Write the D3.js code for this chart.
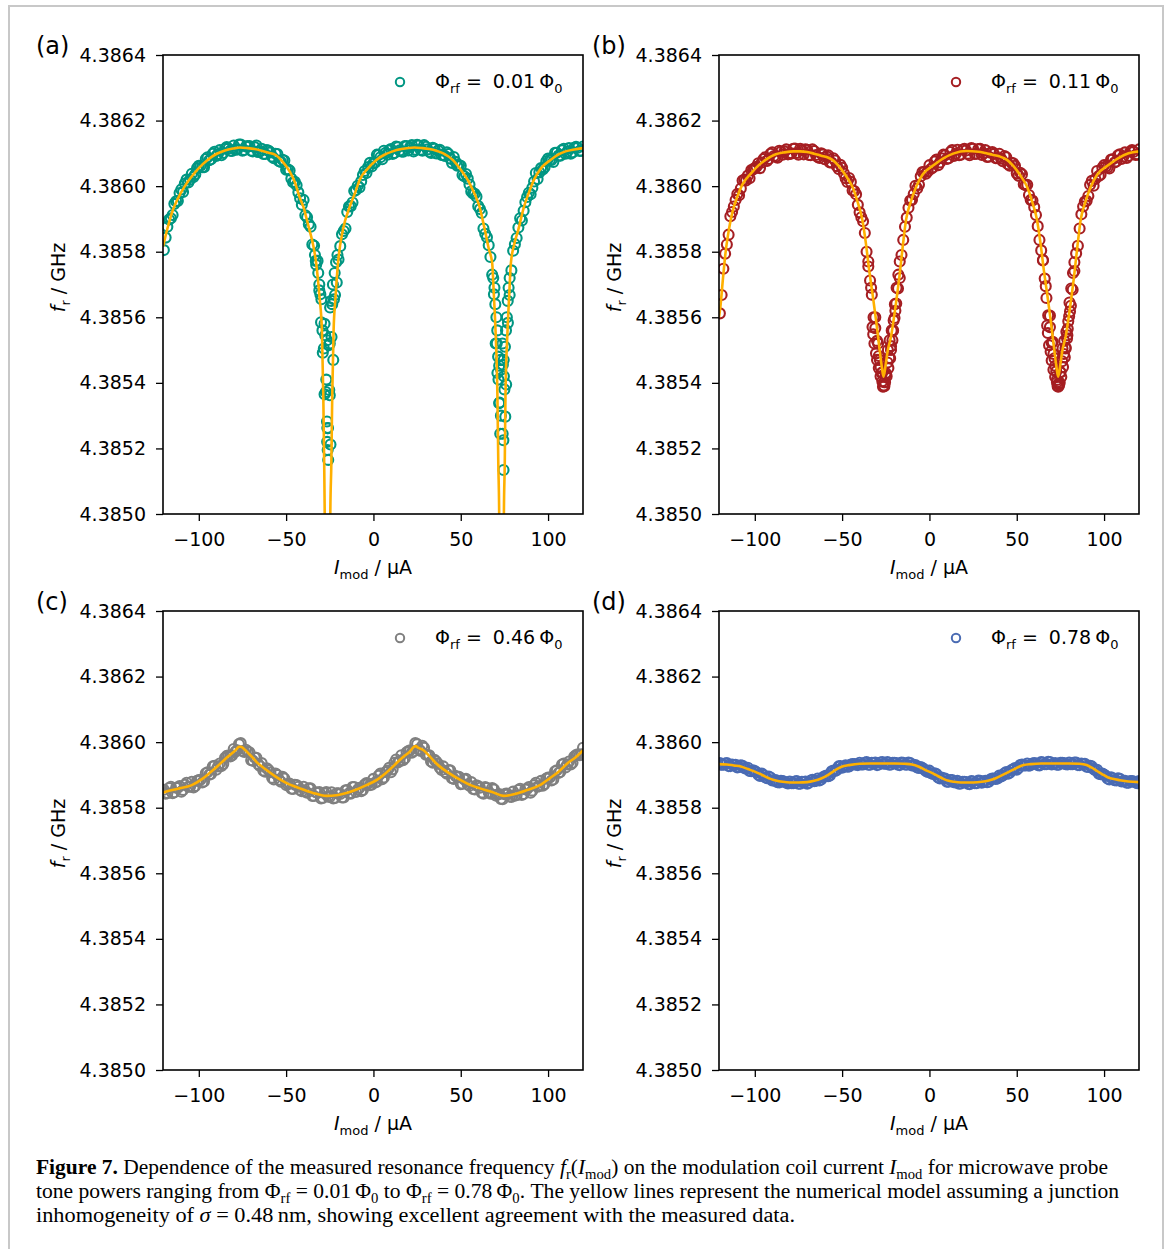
<!DOCTYPE html>
<html>
<head>
<meta charset="utf-8">
<script src="https://cdn.jsdelivr.net/npm/d3@7"></script>
<style>
  body { margin: 0; background: #fff; }
  svg text { font-family: "DejaVu Sans", sans-serif; fill: #000; }
  svg text.cap { font-family: "Liberation Serif", serif; }
</style>
</head>
<body>
<svg id="fig" width="1168" height="1249"></svg>
<script>
// modulation current, forward sweep (even µA) and second sweep (odd µA)
const imod = [-120,-118,-116,-114,-112,-110,-108,-106,-104,-102,-100,-98,-96,-94,-92,-90,-88,-86,-84,-82,
  -80,-78,-76,-74,-72,-70,-68,-66,-64,-62,-60,-58,-56,-54,-52,-50,-48,-46,-44,-42,-40,-38,-36,-34,-32,-30,
  -28,-26,-24,-22,-20,-18,-16,-14,-12,-10,-8,-6,-4,-2,0,2,4,6,8,10,12,14,16,18,20,22,24,26,28,30,32,34,36,
  38,40,42,44,46,48,50,52,54,56,58,60,62,64,66,68,70,72,74,76,78,80,82,84,86,88,90,92,94,96,98,100,102,104,
  106,108,110,112,114,116,118,120];
const imod2 = [-119,-117,-115,-113,-111,-109,-107,-105,-103,-101,-99,-97,-95,-93,-91,-89,-87,-85,-83,-81,
  -79,-77,-75,-73,-71,-69,-67,-65,-63,-61,-59,-57,-55,-53,-51,-49,-47,-45,-43,-41,-39,-37,-35,-33,-31,-29,
  -27,-25,-23,-21,-19,-17,-15,-13,-11,-9,-7,-5,-3,-1,1,3,5,7,9,11,13,15,17,19,21,23,25,27,29,31,33,35,37,39,
  41,43,45,47,49,51,53,55,57,59,61,63,65,67,69,71,73,75,77,79,81,83,85,87,89,91,93,95,97,99,101,103,105,107,
  109,111,113,115,117,119];

// measured f_r, in kHz above 4.3850 GHz
const measA = [805,876,902,946,955,990,1008,1011,1038,1036,
  1062,1058,1083,1079,1099,1092,1110,1101,1119,1108,
  1124,1112,1127,1110,1122,1108,1119,1104,1114,1098,
  1108,1090,1099,1076,1080,1050,1048,1012,1003,963,
  958,905,876,818,772,585,365,262,540,668,
  776,853,871,938,950,988,996,1034,1040,1071,
  1070,1096,1088,1108,1096,1113,1101,1119,1106,1122,
  1109,1125,1111,1124,1108,1120,1105,1117,1100,1111,
  1094,1103,1084,1089,1062,1062,1030,1023,984,977,
  939,918,855,820,730,520,338,245,395,668,
  803,842,902,925,967,975,1014,1022,1055,1058,
  1084,1080,1102,1093,1110,1099,1116,1103,1120,1107,
  1121];
const measA2 = [843,898,912,954,979,982,1020,1020,1028,1055,
  1062,1058,1088,1082,1105,1098,1094,1114,1115,1107,
  1111,1127,1108,1121,1122,1106,1124,1106,1098,1110,
  1103,1085,1098,1074,1078,1051,1023,1013,981,943,
  911,884,822,772,682,492,410,362,470,706,
  817,863,921,939,985,1001,1015,1046,1058,1060,
  1072,1095,1082,1102,1109,1098,1121,1109,1105,1122,
  1119,1106,1126,1111,1125,1112,1101,1114,1109,1095,
  1092,1098,1071,1074,1064,1034,1037,1005,978,968,
  930,871,844,784,670,430,300,380,583,743,
  823,874,895,951,980,995,1040,1042,1051,1076,
  1080,1074,1102,1093,1114,1105,1099,1117,1117,1108];
const measB = [612,748,822,908,938,976,993,1020,1032,1049,
  1055,1070,1072,1088,1083,1103,1090,1108,1096,1112,
  1098,1114,1101,1114,1097,1111,1094,1107,1089,1100,
  1082,1094,1072,1078,1052,1056,1024,1025,987,975,
  920,893,800,712,600,528,448,402,462,512,
  598,688,790,876,934,958,1001,1004,1043,1038,
  1064,1057,1081,1072,1096,1083,1104,1092,1111,1096,
  1114,1099,1116,1098,1113,1095,1110,1090,1104,1085,
  1099,1076,1088,1062,1070,1039,1041,1006,1004,958,
  936,878,804,718,606,522,452,398,466,508,
  603,684,795,871,938,955,1004,1001,1046,1035,
  1064,1057,1081,1072,1094,1083,1103,1092,1110,1095,
  1112];
const measB2 = [668,794,852,921,958,972,1017,1017,1024,1051,
  1059,1055,1083,1077,1099,1092,1087,1105,1106,1097,
  1100,1115,1096,1110,1112,1095,1112,1095,1086,1097,
  1091,1072,1085,1061,1065,1039,1013,1013,985,943,
  905,857,755,669,567,482,432,425,476,558,
  642,720,836,904,956,976,993,1030,1043,1045,
  1053,1075,1064,1085,1094,1085,1110,1098,1094,1111,
  1109,1094,1114,1099,1114,1100,1089,1102,1098,1085,
  1084,1092,1067,1071,1062,1032,1036,1003,973,956,
  912,836,773,659,570,488,409,433,488,545,
  635,741,818,914,953,970,1016,1022,1031,1056,
  1060,1054,1082,1075,1097,1090,1086,1105,1105,1097];
const measC = [855,844,864,847,861,849,870,864,879,866,
  884,877,905,901,926,916,935,933,958,956,
  979,975,997,970,971,945,953,933,936,910,
  915,891,904,885,894,869,874,857,869,854,
  864,846,859,836,845,828,844,834,847,830,
  844,831,853,844,863,848,861,854,875,869,
  888,879,904,892,913,908,937,938,960,951,
  973,968,997,978,989,962,960,937,941,922,
  926,904,914,888,893,872,886,871,878,856,
  866,846,863,847,860,837,842,826,843,834,
  849,838,858,842,857,846,869,864,882,872,
  892,883,911,906,932,923,941,937,961,960,
  983];
const measC2 = [843,860,844,861,866,854,876,864,862,882,
  885,880,908,903,928,926,927,952,959,959,
  971,994,973,977,969,943,952,927,913,920,
  908,886,900,879,889,872,858,870,864,850,
  849,859,836,847,848,830,848,833,828,844,
  842,831,854,843,863,855,850,871,874,870,
  877,898,887,909,922,917,947,942,945,969,
  975,972,994,973,983,961,941,946,934,915,
  909,915,890,897,894,873,888,867,857,868,
  861,843,860,843,856,840,827,841,841,833,
  837,854,839,856,863,852,876,866,867,889,
  892,886,914,909,935,932,932,956,963,963];
const measD = [936,931,936,927,930,923,929,921,922,911,
  912,901,904,893,895,883,884,877,881,876,
  880,875,881,873,878,873,883,881,889,886,
  896,896,911,912,926,922,929,926,933,931,
  937,932,939,931,936,930,938,934,939,932,
  937,931,938,932,938,929,930,921,921,912,
  913,903,903,889,889,879,884,878,882,874,
  879,873,881,875,883,876,882,879,889,888,
  898,898,909,907,917,916,930,929,935,930,
  936,930,939,933,940,932,936,931,937,933,
  938,933,938,930,933,925,928,918,916,902,
  901,889,893,884,890,880,882,876,881,877,
  881];
const measD2 = [931,935,927,932,931,924,928,919,912,914,
  908,897,900,890,892,883,878,882,879,874,
  875,880,873,879,880,876,885,882,883,893,
  898,898,913,915,927,925,925,932,933,930,
  932,937,931,937,938,932,939,934,931,937,
  936,930,937,931,936,929,923,924,917,909,
  905,905,892,892,889,879,884,877,873,879,
  878,872,880,875,882,879,878,887,889,889,
  895,905,904,915,921,921,932,929,928,935,
  935,929,938,933,939,934,931,937,936,932,
  933,938,930,935,934,924,926,914,904,904,
  897,886,890,883,888,881,876,881,880,875];

// extra measured points around the dips [I_mod µA, kHz above 4.3850 GHz]
const dipA = [[-33.5,790],[-32.8,760],[-31.6,735],[-31.0,700],[-30.4,670],[-29.8,655],[-24.2,650],[-23.6,640],
  [-22.6,655],[-24.8,630],[-23.2,700],[-22.2,735],[-21.4,768],[-20.6,790],[-29.2,560],[-28.4,505],[-27.6,545],
  [-26.6,530],[-25.6,515],[-28.0,580],[-25.0,520],[-27.2,372],[-25.3,378],[-26.6,282],[-26.4,262],[-26.5,220],
  [-24.6,212],[-26.2,195],[-25.9,165],
  [68.6,720],[69.3,690],[69.8,640],[70.4,600],[70.9,560],[70.6,520],[71.4,480],[72.0,452],[72.8,470],[73.9,520],
  [74.6,470],[75.3,510],[75.9,560],[76.4,600],[76.9,650],[77.4,690],[78.0,720],[71.6,410],[74.7,420],[72.2,340],
  [75.5,297],[72.6,245],[74.4,225],[74.5,134],[73.1,440],[74.1,455]];
const dipB = [[-35,770],[-33.4,690],[-32.6,570],[-32.2,548],[-31.5,520],[-31,600],[-30.6,490],[-30,470],
  [-29.4,520],[-29,445],[-28.4,470],[-28,420],[-27.4,430],[-27,405],[-26.6,388],[-26.2,392],[-25.8,390],
  [-25.4,402],[-25,430],[-24.5,420],[-23.8,500],[-23.5,445],[-22.8,530],[-22.5,475],[-22,500],[-21.6,560],
  [-21.2,530],[-20.8,560],[-20.5,590],[-19.8,640],[-19.5,620],[-18.8,690],[-17.8,730],[-17,770],
  [65,775],[66.6,695],[67.4,575],[67.8,552],[68.5,515],[69,605],[69.4,495],[70,468],[70.6,525],[71,440],
  [71.6,475],[72,418],[72.6,435],[73,402],[73.4,390],[73.8,388],[74.2,393],[74.6,400],[75,432],[75.5,418],
  [76.2,505],[76.5,448],[77.2,528],[77.5,478],[78,505],[78.4,556],[78.8,535],[79.2,565],[79.5,588],[80.2,645],
  [80.5,618],[81.2,688],[82.2,735],[83,768]];

// numerical model curves [I_mod µA, kHz above 4.3850 GHz]
const modelA = [[-120.5,815],[-118,870],[-115,925],[-112,962],[-108,1000],[-104,1030],[-100,1055],[-95,1080],
  [-90,1098],[-85,1109],[-80,1115],[-76.4,1118],[-72,1116],[-68,1113],[-64,1108],[-60,1102],[-56,1095],
  [-52,1075],[-48,1045],[-45,1012],[-42.4,968],[-40,935],[-38,895],[-36.6,866],[-34.5,820],[-32.8,765],
  [-30.9,663],[-29.5,561],[-28.7,358],[-28.2,155],[-27.9,0],[-27.5,-350],[-27.0,-1000],[-26.3,-2500],
  [-25.6,-1000],[-25.1,-350],[-24.7,0],[-24.1,155],[-23.6,358],[-22.8,561],[-21.7,663],[-20.3,765],
  [-17.5,866],[-13.6,937],[-10.5,980],[-7.9,1019],[-3,1055],[1.7,1080],[6,1095],[11,1106],[16,1113],
  [23.5,1118],[28,1116],[32,1113],[36,1108],[40,1100],[45.4,1080],[50,1050],[54.9,1010],[58,975],
  [60.6,940],[63.8,866],[66,810],[68.0,765],[69.0,663],[69.9,561],[71.0,358],[71.5,155],[72.0,0],
  [72.4,-350],[72.9,-1000],[73.35,-2500],[73.8,-1000],[74.3,-350],[74.7,0],[75.2,155],[75.6,358],
  [76.8,561],[77.7,663],[78.7,765],[80.5,820],[82.9,866],[86.2,937],[89,980],[91.9,1019],[96,1055],
  [101.4,1080],[106,1097],[110,1106],[115,1112],[120,1116]];
const modelB = [[-120.5,600],[-119.7,632],[-118.2,720],[-116.8,795],[-115,862],[-113,917],[-110,968],
  [-107.3,1003],[-102,1040],[-97.7,1064],[-93,1083],[-88,1097],[-83,1103],[-78,1106],[-74,1106],[-70,1104],
  [-66,1099],[-62,1093],[-58.5,1088],[-55.6,1080],[-52,1062],[-48,1033],[-44.1,998],[-41,950],[-38.4,897],
  [-36.5,830],[-34.5,744],[-32.5,668],[-30.6,592],[-28.5,500],[-27.3,450],[-26.3,419],[-25.2,450],[-24,495],
  [-22,541],[-19.5,630],[-17.2,724],[-15.2,820],[-13.4,897],[-10.5,955],[-7.6,998],[-4,1035],[1.9,1062],
  [8,1085],[14,1100],[21,1107],[28,1105],[32,1101],[36,1096],[40,1091],[44.4,1080],[48,1062],[52,1033],
  [55.9,998],[59,950],[61.6,897],[63.5,830],[65.5,744],[67.5,668],[69.4,592],[71.5,500],[72.7,450],
  [73.7,419],[74.8,450],[76,495],[78,541],[80.5,630],[82.8,724],[84.8,820],[86.6,897],[89.5,955],
  [92.4,998],[96,1035],[101.9,1062],[108,1085],[114,1100],[120,1106]];
const modelC = [[-120.5,846],[-119,849],[-112,858],[-104,869],[-98,888],[-94,905],[-89,928],[-85,948],
  [-81,966],[-78.5,978],[-77,986],[-76,986],[-74.5,981],[-72,968],[-69,952],[-67,940],[-62,918],[-56,895],
  [-50,876],[-42,859],[-35,846],[-27,836],[-21,838],[-16,844],[-10,855],[-4,869],[2,885],[7,905],[12,930],
  [17,955],[21,972],[23.2,986],[24.2,988],[25.5,983],[28.5,976],[32,958],[36,935],[42,910],[50,884],[56,868],
  [61,859],[68,848],[74.5,836],[81,842],[88,854],[95,868],[101,890],[106,910],[111,935],[116,955],[120,975]];
const modelD = [[-120.5,933],[-116,932],[-112,929],[-108,926],[-104,918],[-100,910],[-97,903],[-94,895],
  [-91,888],[-88,883],[-84,879],[-80,877],[-75,877],[-70,878],[-66,882],[-62,889],[-58,900],[-55,911],
  [-52,921],[-49,927],[-46,930],[-40,934],[-34,935],[-27,935],[-20,935],[-14,934],[-10,932],[-6,925],
  [-2,914],[2,905],[5,896],[8,888],[11,882],[14,879],[18,877],[25,877],[30,879],[34,883],[38,890],[42,900],
  [45,908],[48,916],[51,924],[54,930],[58,933],[64,935],[72,935],[80,935],[86,934],[90,930],[93,922],
  [96,912],[99,902],[102,893],[105,888],[109,884],[114,880],[120,878]];

const panelLabels = ["(a)", "(b)", "(c)", "(d)"];
const phiRf = ["0.01", "0.11", "0.46", "0.78"];
const colors = ["#009682", "#a51e22", "#808080", "#4a6bb3"];
const xTicks = [-100, -50, 0, 50, 100];
const yTicks = [4.3850, 4.3852, 4.3854, 4.3856, 4.3858, 4.3860, 4.3862, 4.3864];

const panels = [
  {meas: measA, meas2: measA2, extra: dipA, model: modelA},
  {meas: measB, meas2: measB2, extra: dipB, model: modelB},
  {meas: measC, meas2: measC2, extra: [], model: modelC},
  {meas: measD, meas2: measD2, extra: [], model: modelD}
];

const svg = d3.select("#fig");
svg.append("rect").attr("width", 1168).attr("height", 1249).attr("fill", "#fff");
svg.append("path").attr("d", "M9,1249V6H1163V1249")
  .attr("fill", "none").attr("stroke", "#c8c8c8").attr("stroke-width", 2);

const W = 420, H = 459;
const colX = [163, 719], rowY = [55, 611];
const x = d3.scaleLinear().domain([-120.5, 120]).range([0, W]);
const y = d3.scaleLinear().domain([4.3850, 4.3864]).range([H, 0]);
const ghz = k => 4.385 + k * 1e-6;

// text with italic / subscript pieces
function rich(sel, parts, fs) {
  let shift = 0;
  parts.forEach(p => {
    const t = sel.append("tspan").text(p.t);
    const want = p.sub ? Math.round(fs * 0.26) : 0;
    if (want !== shift) { t.attr("dy", want - shift); shift = want; }
    if (p.sub) t.attr("font-size", Math.round(fs * 0.7));
    if (p.i) t.attr("font-style", "italic");
    if (p.b) t.attr("font-weight", "bold");
    if (p.dx) t.attr("dx", p.dx);
  });
}

panels.forEach((p, i) => {
  const ox = colX[i % 2], oy = rowY[Math.floor(i / 2)];
  const g = svg.append("g").attr("transform", `translate(${ox},${oy})`);
  g.append("clipPath").attr("id", "clip" + i).append("rect").attr("width", W).attr("height", H);
  const plot = g.append("g").attr("clip-path", `url(#clip${i})`);

  const pts = imod.map((v, j) => [v, p.meas[j]])
    .concat(imod2.map((v, j) => [v, p.meas2[j]]))
    .concat(p.extra);
  plot.selectAll("circle").data(pts).join("circle")
    .attr("cx", d => x(d[0]))
    .attr("cy", d => y(ghz(d[1])))
    .attr("r", 5)
    .attr("fill", "none")
    .attr("stroke", colors[i])
    .attr("stroke-width", 2.1);

  plot.append("path").datum(p.model)
    .attr("d", d3.line().x(d => x(d[0])).y(d => y(ghz(d[1]))).curve(d3.curveMonotoneX))
    .attr("fill", "none").attr("stroke", "#ffb000").attr("stroke-width", 2.6);

  // axes
  const xa = g.append("g").attr("transform", `translate(0,${H})`)
    .call(d3.axisBottom(x).tickValues(xTicks).tickSize(7).tickPadding(12)
      .tickFormat(d => d < 0 ? "\u2212" + Math.abs(d) : d));
  const ya = g.append("g")
    .call(d3.axisLeft(y).tickValues(yTicks).tickSize(7).tickPadding(10).tickFormat(d3.format(".4f")));
  [xa, ya].forEach(a => {
    a.select(".domain").remove();
    a.selectAll("line").attr("stroke", "#000").attr("stroke-width", 1.3);
    a.selectAll("text").attr("font-size", 19).attr("font-family", "DejaVu Sans").attr("fill", "#000");
  });

  g.append("rect").attr("width", W).attr("height", H)
    .attr("fill", "none").attr("stroke", "#000").attr("stroke-width", 1.6);

  // axis labels
  rich(g.append("text").attr("x", W / 2).attr("y", H + 60).attr("text-anchor", "middle").attr("font-size", 19),
    [{t: "I", i: true}, {t: "mod", sub: true}, {t: " / \u00b5A"}], 19);
  rich(g.append("text").attr("transform", `translate(-98,${H / 2 - 7}) rotate(-90)`)
      .attr("text-anchor", "middle").attr("font-size", 19),
    [{t: "f", i: true}, {t: "r", sub: true}, {t: " / GHz"}], 19);

  // panel letter
  g.append("text").attr("x", -127).attr("y", -1).attr("font-size", 24).text(panelLabels[i]);

  // legend
  g.append("circle").attr("cx", 237).attr("cy", 27).attr("r", 4.2)
    .attr("fill", "none").attr("stroke", colors[i]).attr("stroke-width", 2);
  rich(g.append("text").attr("x", 272).attr("y", 33).attr("font-size", 19),
    [{t: "\u03a6"}, {t: "rf", sub: true}, {t: " ="}, {t: phiRf[i], dx: 11}, {t: "\u03a6", dx: 4}, {t: "0", sub: true}], 19);
});

// caption
const capLines = [
  {y: 1174, len: 1072, parts: [{t: "Figure 7.", b: true}, {t: " Dependence of the measured resonance frequency "},
    {t: "f", i: true}, {t: "r", sub: true}, {t: "("}, {t: "I", i: true}, {t: "mod", sub: true},
    {t: ") on the modulation coil current "}, {t: "I", i: true}, {t: "mod", sub: true}, {t: " for microwave probe"}]},
  {y: 1198, len: 1083, parts: [{t: "tone powers ranging from \u03a6"}, {t: "rf", sub: true}, {t: " = 0.01\u2009\u03a6"},
    {t: "0", sub: true}, {t: " to \u03a6"}, {t: "rf", sub: true}, {t: " = 0.78\u2009\u03a6"}, {t: "0", sub: true},
    {t: ". The yellow lines represent the numerical model assuming a junction"}]},
  {y: 1222, len: 759, parts: [{t: "inhomogeneity of "}, {t: "\u03c3", i: true},
    {t: " = 0.48\u2009nm, showing excellent agreement with the measured data."}]}
];
capLines.forEach(l => {
  const t = svg.append("text").attr("class", "cap").attr("x", 36).attr("y", l.y).attr("font-size", 20.5)
    .attr("textLength", l.len).attr("lengthAdjust", "spacingAndGlyphs");
  rich(t, l.parts, 20);
});
</script>
</body>
</html>
